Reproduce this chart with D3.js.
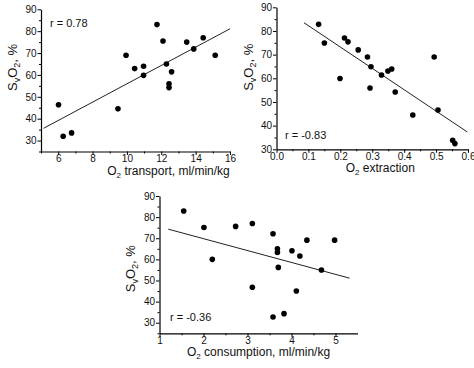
<!DOCTYPE html>
<html>
<head>
<meta charset="utf-8">
<script src="https://cdn.jsdelivr.net/npm/d3@7"></script>
<style>
  body { margin: 0; background: #fff; }
  svg text { font-family: "Liberation Sans", Arial, sans-serif; fill: #111; }
</style>
</head>
<body>
<div id="chart"></div>
<script>
// O2 transport panel
const transportX = [6.02, 6.29, 6.78, 9.48, 9.95, 10.45, 10.97, 10.97, 11.75, 12.1, 12.3, 12.45, 12.45, 12.6, 13.48, 13.89, 14.44, 15.14];
const transportY = [46.4, 32.0, 33.5, 44.5, 69.0, 62.9, 64.0, 59.8, 83.0, 75.5, 65.0, 56.0, 54.2, 61.4, 75.0, 71.9, 77.0, 69.0];
const transportFit = [[5.15, 35.6], [16, 81.1]];

// O2 extraction panel
const extractionX = [0.132, 0.150, 0.213, 0.224, 0.199, 0.256, 0.285, 0.296, 0.293, 0.329, 0.349, 0.361, 0.372, 0.427, 0.494, 0.506, 0.552, 0.559];
const extractionY = [82.8, 74.9, 77.0, 75.4, 59.9, 72.0, 69.0, 64.9, 55.9, 61.4, 63.1, 63.9, 54.2, 44.5, 69.0, 46.6, 33.8, 32.4];
const extractionFit = [[0.086, 83.5], [0.598, 37.3]];

// O2 consumption panel
const consumptionX = [1.55, 2.01, 2.20, 2.73, 3.11, 3.11, 3.58, 3.68, 3.68, 3.70, 3.58, 3.83, 4.01, 4.11, 4.19, 4.35, 4.68, 4.98];
const consumptionY = [82.9, 75.1, 60.0, 75.6, 77.0, 46.8, 72.1, 65.0, 63.3, 56.2, 32.7, 34.3, 64.1, 45.0, 61.6, 69.1, 55.0, 69.1];
const consumptionFit = [[1.2, 74.3], [5.32, 51.1]];

const yTicks = [30, 40, 50, 60, 70, 80, 90];

let svg = d3.select("#chart")
    .append("svg")
    .attr("width", 474)
    .attr("height", 368);

function drawPanel(p) {
    let x = d3.scaleLinear().domain(p.xDomain).range(p.xRange);
    let y = d3.scaleLinear().domain(p.yDomain).range(p.yRange);
    let g = svg.append("g");

    // minor ticks first, no labels
    g.append("g")
        .attr("transform", "translate(0," + p.yRange[0] + ")")
        .call(d3.axisBottom(x).tickValues(p.xMinor).tickSize(2).tickFormat(""))
        .call(a => a.select(".domain").remove());
    g.append("g")
        .attr("transform", "translate(" + p.xRange[0] + ",0)")
        .call(d3.axisLeft(y).tickValues(p.yMinor).tickSize(2).tickFormat(""))
        .call(a => a.select(".domain").remove());

    let xAxis = g.append("g")
        .attr("transform", "translate(0," + p.yRange[0] + ")")
        .call(d3.axisBottom(x).tickValues(p.xTicks).tickSize(3.5).tickSizeOuter(0).tickPadding(0).tickFormat(p.xFormat));
    let yAxis = g.append("g")
        .attr("transform", "translate(" + p.xRange[0] + ",0)")
        .call(d3.axisLeft(y).tickValues(yTicks).tickSize(3.5).tickSizeOuter(0).tickPadding(1));
    [xAxis, yAxis].forEach(a => {
        a.selectAll("text").style("font-size", "10px").style("font-family", "Liberation Sans, Arial, sans-serif");
        a.select(".domain").attr("stroke-width", 1.2);
    });

    // regression line
    g.append("line")
        .attr("x1", x(p.fit[0][0])).attr("y1", y(p.fit[0][1]))
        .attr("x2", x(p.fit[1][0])).attr("y2", y(p.fit[1][1]))
        .attr("stroke", "#222")
        .attr("stroke-width", 1);

    g.selectAll("circle")
        .data(p.xs.map((v, i) => [v, p.ys[i]]))
        .enter()
        .append("circle")
        .attr("cx", d => x(d[0]))
        .attr("cy", d => y(d[1]))
        .attr("r", 2.8)
        .attr("fill", "#000");

    g.append("text")
        .attr("x", p.rPos[0]).attr("y", p.rPos[1])
        .style("font-size", "11px")
        .text(p.rText);

    // x title with subscript 2
    let xt = g.append("text")
        .attr("x", (p.xRange[0] + p.xRange[1]) / 2 + p.xTitleShift)
        .attr("y", p.yRange[0] + 23)
        .attr("text-anchor", "middle")
        .style("font-size", "12px");
    xt.append("tspan").text("O");
    xt.append("tspan").attr("dy", 3).style("font-size", "8px").text("2");
    xt.append("tspan").attr("dy", -3).text(" " + p.xTitle);

    // y title
    let yt = g.append("text")
        .attr("transform", "translate(" + (p.xRange[0] - p.yTitleGap) + "," + ((p.yRange[0] + p.yRange[1]) / 2 + p.yTitleShift) + ") rotate(-90)")
        .attr("text-anchor", "middle")
        .style("font-size", "13px");
    yt.append("tspan").text("S");
    yt.append("tspan").attr("dy", 3).style("font-size", "9px").text("v");
    yt.append("tspan").attr("dy", -3).text("O");
    yt.append("tspan").attr("dy", 3).style("font-size", "9px").text("2");
    yt.append("tspan").attr("dy", -3).text(", %");
}

drawPanel({
    xDomain: [5, 16], xRange: [41, 230], yDomain: [25, 90], yRange: [151.5, 9.3],
    xTicks: [6, 8, 10, 12, 14, 16], xMinor: [5, 7, 9, 11, 13, 15],
    yMinor: [25, 35, 45, 55, 65, 75, 85], xFormat: d3.format("d"),
    xs: transportX, ys: transportY, fit: transportFit,
    rText: "r = 0.78", rPos: [50, 27], xTitle: "transport, ml/min/kg", xTitleShift: 33,
    yTitleGap: 24, yTitleShift: -13
});

drawPanel({
    xDomain: [0, 0.6], xRange: [276.5, 468], yDomain: [30, 90], yRange: [149.3, 7.3],
    xTicks: [0, 0.1, 0.2, 0.3, 0.4, 0.5, 0.6], xMinor: [0.05, 0.15, 0.25, 0.35, 0.45, 0.55],
    yMinor: [35, 45, 55, 65, 75, 85], xFormat: d3.format(".1f"),
    xs: extractionX, ys: extractionY, fit: extractionFit,
    rText: "r = -0.83", rPos: [285, 139], xTitle: "extraction", xTitleShift: 8,
    yTitleGap: 23.5, yTitleShift: -11
});

drawPanel({
    xDomain: [1, 5.5], xRange: [159.5, 357.5], yDomain: [25, 90], yRange: [333.3, 196],
    xTicks: [1, 2, 3, 4, 5], xMinor: [1.5, 2.5, 3.5, 4.5],
    yMinor: [25, 35, 45, 55, 65, 75, 85], xFormat: d3.format("d"),
    xs: consumptionX, ys: consumptionY, fit: consumptionFit,
    rText: "r = -0.36", rPos: [170, 321], xTitle: "consumption, ml/min/kg", xTitleShift: 0,
    yTitleGap: 24.5, yTitleShift: 4
});
</script>
</body>
</html>
